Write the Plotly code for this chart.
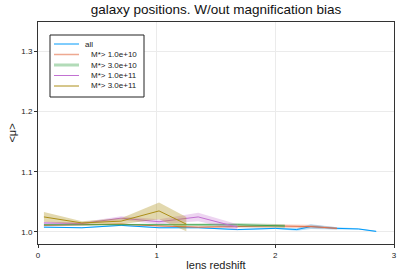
import plotly.graph_objects as go

# data
x_all = [0.05, 0.37, 0.70, 1.02, 1.35, 1.68, 2.00, 2.18, 2.30, 2.52, 2.70, 2.85]
y_all = [1.008, 1.007, 1.011, 1.007, 1.007, 1.004, 1.006, 1.004, 1.009, 1.006, 1.005, 1.001]
e_all = [0.001, 0.001, 0.001, 0.001, 0.001, 0.001, 0.001, 0.002, 0.004, 0.002, 0.001, 0.001]

x_1e10 = [0.05, 0.37, 0.70, 1.02, 1.35, 1.68, 2.00, 2.30, 2.52]
y_1e10 = [1.011, 1.012, 1.013, 1.010, 1.008, 1.009, 1.010, 1.009, 1.006]
e_1e10 = [0.001, 0.001, 0.001, 0.001, 0.001, 0.002, 0.003, 0.003, 0.002]

x_3e10 = [0.05, 0.37, 0.70, 1.02, 1.35, 1.68, 2.08]
y_3e10 = [1.012, 1.012, 1.013, 1.012, 1.012, 1.012, 1.010]
e_3e10 = [0.001, 0.001, 0.001, 0.001, 0.002, 0.003, 0.003]

x_1e11 = [0.05, 0.37, 0.70, 1.02, 1.35, 1.68]
y_1e11 = [1.015, 1.014, 1.023, 1.017, 1.025, 1.008]
e_1e11 = [0.002, 0.002, 0.003, 0.004, 0.007, 0.005]

x_3e11 = [0.05, 0.37, 0.70, 1.02, 1.25]
y_3e11 = [1.025, 1.015, 1.018, 1.035, 1.013]
e_3e11 = [0.008, 0.003, 0.005, 0.014, 0.012]

names = ["all", "   M*> 1.0e+10", "   M*> 3.0e+10", "   M*> 1.0e+11", "   M*> 3.0e+11"]
colors = ["#009AFA", "#E36F47", "#3EA44E", "#C271D2", "#AC8E18"]
fills = ["rgba(0,154,250,0.3)", "rgba(227,111,71,0.3)", "rgba(62,164,78,0.3)",
         "rgba(194,113,210,0.3)", "rgba(172,142,24,0.35)"]
legend_line_colors = ["#009AFA", "rgba(227,111,71,0.6)", "rgba(62,164,78,0.4)",
                      "#C271D2", "#AC8E18"]
legend_line_widths = [1, 1.5, 3, 1, 1]
series = [(x_all, y_all, e_all), (x_1e10, y_1e10, e_1e10), (x_3e10, y_3e10, e_3e10),
          (x_1e11, y_1e11, e_1e11), (x_3e11, y_3e11, e_3e11)]

FONT = "Liberation Sans, Arial, sans-serif"
W, H = 407, 271
L, R, T, B = 38, 13, 22, 27
pw, ph = W - L - R, H - T - B

fig = go.Figure()
for (xs, ys, es), name, c, f in zip(series, names, colors, fills):
    up = [y + e for y, e in zip(ys, es)]
    lo = [y - e for y, e in zip(ys, es)]
    fig.add_trace(go.Scatter(x=xs + xs[::-1], y=up + lo[::-1], fill="toself",
                             fillcolor=f, line=dict(width=0), mode="lines",
                             hoverinfo="skip", showlegend=False))
    fig.add_trace(go.Scatter(x=xs, y=ys, mode="lines", name=name, showlegend=False,
                             line=dict(color=c, width=1)))

# manual legend (pixel positions converted to paper coords)
def px(xp):
    return (xp - L) / pw
def py(yp):
    return 1 - (yp - T) / ph

shapes = [dict(type="rect", xref="paper", yref="paper",
               x0=px(50), x1=px(144), y0=py(97), y1=py(35),
               line=dict(color="#222", width=1), fillcolor="white", layer="above")]
annotations = []
for i, (name, lc, lw) in enumerate(zip(names, legend_line_colors, legend_line_widths)):
    yy = 44 + i * 10.5
    shapes.append(dict(type="line", xref="paper", yref="paper",
                       x0=px(54), x1=px(79), y0=py(yy), y1=py(yy),
                       line=dict(color=lc, width=lw), layer="above"))
    annotations.append(dict(text=name.strip(), xref="paper", yref="paper",
                            x=px(83 if i == 0 else 89), y=py(yy), xanchor="left",
                            yanchor="middle", showarrow=False,
                            font=dict(size=8, family=FONT, color="#222")))

fig.update_layout(
    width=W, height=H,
    margin=dict(l=L, r=R, t=T, b=B),
    paper_bgcolor="white", plot_bgcolor="white",
    font=dict(family=FONT, size=8, color="#222"),
    title=dict(text="galaxy positions. W/out magnification bias", x=0.5, xanchor="center",
               xref="paper", y=0.985, yanchor="top",
               font=dict(size=13.5, color="#111", family=FONT)),
    showlegend=False,
    shapes=shapes, annotations=annotations,
)
fig.update_xaxes(range=[0, 3], tickvals=[0, 1, 2, 3], ticktext=["0", "1", "2", "3"],
                 showgrid=True, gridcolor="#ebebeb", gridwidth=1, zeroline=False,
                 showline=True, linecolor="#333", linewidth=1, mirror=True,
                 ticks="outside", ticklen=3, tickcolor="#333", automargin=False,
                 title=dict(text="lens redshift", font=dict(size=11), standoff=4))
fig.update_yaxes(range=[0.98, 1.349], tickvals=[1.0, 1.1, 1.2, 1.3],
                 ticktext=["1.0", "1.1", "1.2", "1.3"],
                 showgrid=True, gridcolor="#ebebeb", gridwidth=1, zeroline=False,
                 showline=True, linecolor="#333", linewidth=1, mirror=True,
                 ticks="outside", ticklen=3, tickcolor="#333", automargin=False,
                 title=dict(text="<μ>", font=dict(size=11), standoff=2))

fig.write_html("out.html", post_script="document.body.style.margin='0';",
               config={"displayModeBar": False})
